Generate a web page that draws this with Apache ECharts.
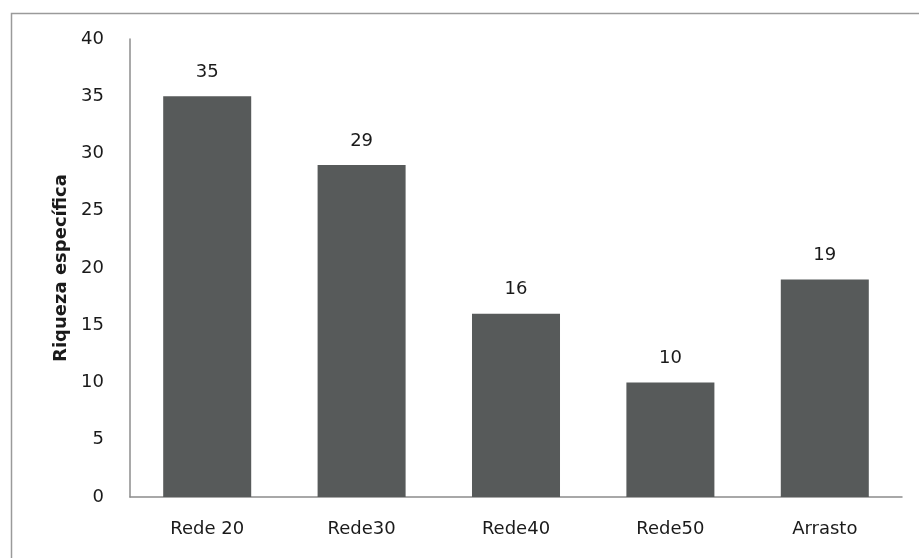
<!DOCTYPE html>
<html>
<head>
<meta charset="utf-8">
<script src="https://cdn.jsdelivr.net/npm/echarts@6/dist/echarts.min.js"></script>
<style>html,body{margin:0;padding:0;background:#fff}#c{width:919px;height:558px}</style>
</head>
<body>
<div id="c"></div>
<script>
const categories = ["Rede 20", "Rede30", "Rede40", "Rede50", "Arrasto"];
const values = [35, 29, 16, 10, 19];
const yTicks = {min: 0, max: 40, interval: 5};
const yTitle = "Riqueza específica";

const chart = echarts.init(document.getElementById('c'));
const font = "'DejaVu Sans', sans-serif";
chart.setOption({
  animation: false,
  graphic: [{
    type: 'rect', left: 9, top: 11,
    shape: {width: 1000, height: 1000},
    style: {fill: 'none', stroke: '#9a9a9a', lineWidth: 1.5},
    silent: true, z: -1
  }],
  grid: {left: 130, top: 39, right: 17, bottom: 61, containLabel: false},
  xAxis: {
    type: 'category',
    data: categories,
    axisLine: {show: true, lineStyle: {color: '#8c8c8c', width: 1.5}},
    axisTick: {show: false},
    axisLabel: {color: '#1a1a1a', fontSize: 18, fontFamily: font, margin: 23}
  },
  yAxis: {
    type: 'value',
    min: yTicks.min, max: yTicks.max, interval: yTicks.interval,
    name: yTitle,
    nameLocation: 'middle',
    nameGap: 59,
    nameTextStyle: {color: '#1a1a1a', fontSize: 18, fontWeight: 'bold', fontFamily: font},
    axisLine: {show: true, lineStyle: {color: '#8c8c8c', width: 1.5}},
    axisTick: {show: false},
    splitLine: {show: false},
    axisLabel: {color: '#1a1a1a', fontSize: 18, fontFamily: font, margin: 26}
  },
  series: [{
    type: 'bar',
    data: values,
    barWidth: '57%',
    itemStyle: {color: '#575a5a'},
    label: {show: true, position: 'top', distance: 15, color: '#1a1a1a', fontSize: 18, fontFamily: font}
  }]
});
</script>
</body>
</html>
